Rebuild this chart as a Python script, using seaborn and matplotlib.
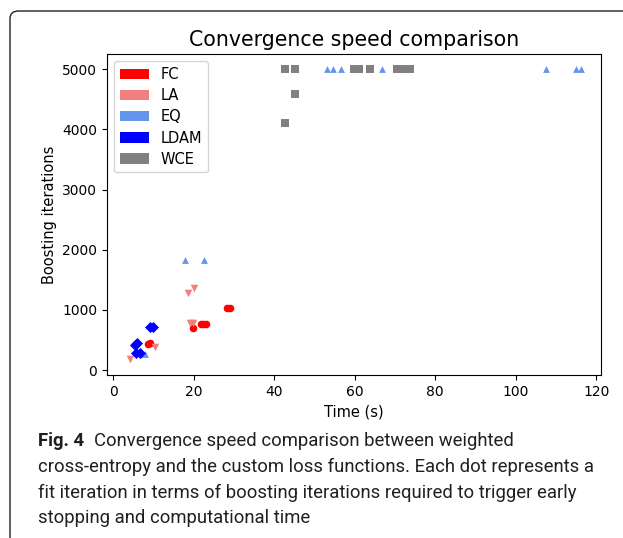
import matplotlib
matplotlib.use("Agg")
import matplotlib.pyplot as plt
import seaborn as sns
import pandas as pd
from matplotlib.patches import Patch, FancyBboxPatch

# ---- data ----
fc_time = [8.7, 9.3, 19.8, 21.8, 22.4, 23.0, 28.3, 29.1]
fc_iter = [430, 445, 700, 775, 775, 775, 1025, 1025]

la_time = [4.2, 10.4, 19.0, 19.9, 18.7, 20.2]
la_iter = [180, 390, 780, 780, 1280, 1370]

eq_time = [7.3, 8.0, 17.9, 22.6, 53.1, 54.6, 56.6, 66.8, 107.5, 114.9, 116.2]
eq_iter = [265, 265, 1830, 1830, 5000, 5000, 5000, 5000, 5000, 5000, 5000]

ldam_time = [5.5, 6.0, 5.8, 6.6, 9.2, 9.9]
ldam_iter = [420, 455, 290, 290, 720, 720]

wce_time = [42.6, 42.7, 45.3, 45.2, 59.9, 61.1, 63.9, 70.6, 72.2, 73.7]
wce_iter = [4110, 5000, 5000, 4590, 5000, 5000, 5000, 5000, 5000, 5000]

methods = ["FC", "LA", "EQ", "LDAM", "WCE"]
colors = ["red", "lightcoral", "cornflowerblue", "blue", "gray"]
markers = ["o", "v", "^", "D", "s"]

title = "Convergence speed comparison"
xlabel = "Time (s)"
ylabel = "Boosting iterations"
caption_bold = "Fig. 4"
caption_lines = [
    "Convergence speed comparison between weighted",
    "cross-entropy and the custom loss functions. Each dot represents a",
    "fit iteration in terms of boosting iterations required to trigger early",
    "stopping and computational time",
]

series = {
    "FC": (fc_time, fc_iter),
    "LA": (la_time, la_iter),
    "EQ": (eq_time, eq_iter),
    "LDAM": (ldam_time, ldam_iter),
    "WCE": (wce_time, wce_iter),
}
rows = []
for m in methods:
    t, it = series[m]
    for a, b in zip(t, it):
        rows.append({"Time": a, "Iter": b, "Method": m})
df = pd.DataFrame(rows)

fig = plt.figure(figsize=(6.23, 5.38), dpi=100)
W, H = 623, 538

# outer frame (rounded top-left corner, continues past right and bottom edges)
frame = FancyBboxPatch((10 / W, -40 / H), 800 / W, (538 - 11 + 40) / H,
                       boxstyle="round,pad=0,rounding_size=0.014",
                       transform=fig.transFigure, fill=False,
                       edgecolor="#222222", linewidth=1.0, clip_on=False)
fig.patches.append(frame)

ax = fig.add_axes([107 / W, (538 - 375) / H, (601 - 107) / W, (375 - 54) / H])

sizes = {"FC": 30, "LA": 30, "EQ": 24, "LDAM": 32, "WCE": 26}
for m, c, mk in zip(methods, colors, markers):
    sub = df[df["Method"] == m]
    sns.scatterplot(data=sub, x="Time", y="Iter", color=c, marker=mk,
                    s=sizes[m], linewidth=0, ax=ax, legend=False)

ax.set_xlim(-1.5, 121.2)
ax.set_ylim(-80, 5250)
ax.set_xticks([0, 20, 40, 60, 80, 100, 120])
ax.set_yticks([0, 1000, 2000, 3000, 4000, 5000])
ax.set_xlabel(xlabel, fontsize=10.5)
ax.set_ylabel(ylabel, fontsize=10.5)
ax.set_title(title, fontsize=14.8)
ax.tick_params(labelsize=10)

handles = [Patch(facecolor=c, label=m) for m, c in zip(methods, colors)]
ax.legend(handles=handles, loc="upper left", fontsize=10.5, labelspacing=0.42)

# caption
cap_font = "Roboto"
cap_size = 13.3
cap_color = "#231f20"
tb = fig.text(38 / W, 1 - 441 / H, caption_bold, fontsize=cap_size,
              fontweight="bold", family=cap_font, va="center", ha="left",
              color=cap_color)
fig.canvas.draw()
bb = tb.get_window_extent()
x_after = (bb.x1 + 10) / W
fig.text(x_after, 1 - 441 / H, caption_lines[0], fontsize=cap_size,
         family=cap_font, va="center", ha="left", color=cap_color)
for i, line in enumerate(caption_lines[1:]):
    fig.text(38 / W, 1 - (467 + 25.5 * i) / H, line, fontsize=cap_size,
             family=cap_font, va="center", ha="left", color=cap_color)

fig.savefig("out.png", dpi=100)
